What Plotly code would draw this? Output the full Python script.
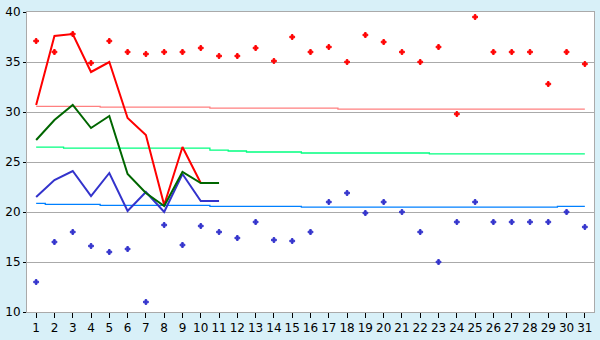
import plotly.graph_objects as go

days = list(range(1, 32))
y_ticks = [10, 15, 20, 25, 30, 35, 40]

red_pts = [37.1, 36.0, 37.8, 34.9, 37.1, 36.0, 35.8, 36.0, 36.0, 36.4,
           35.6, 35.6, 36.4, 35.1, 37.5, 36.0, 36.5, 35.0, 37.7, 37.0,
           36.0, 35.0, 36.5, 29.8, 39.5, 36.0, 36.0, 36.0, 32.8, 36.0, 34.8]
blue_pts = [13.0, 17.0, 18.0, 16.6, 16.0, 16.3, 11.0, 18.7, 16.7, 18.6,
            18.0, 17.4, 19.0, 17.2, 17.1, 18.0, 21.0, 21.9, 19.9, 21.0,
            20.0, 18.0, 15.0, 19.0, 21.0, 19.0, 19.0, 19.0, 19.0, 20.0, 18.5]

line_days_red = list(range(1, 11))
red_line = [30.7, 37.6, 37.8, 34.0, 35.0, 29.4, 27.7, 20.7, 26.5, 22.9]
line_days = list(range(1, 12))
green_line = [27.2, 29.2, 30.7, 28.4, 29.6, 23.8, 21.9, 20.6, 24.0, 22.9, 22.9]
blue_line = [21.5, 23.2, 24.1, 21.6, 23.9, 20.1, 22.0, 20.0, 23.8, 21.1, 21.1]

red_avg = [30.57] * 4 + [30.48] * 6 + [30.38] * 7 + [30.29] * 14
green_avg = [26.48] * 2 + [26.38] * 8 + [26.19] + [26.1] + [26.0] * 3 + [25.9] * 7 + [25.81] * 9
blue_avg = [20.86] + [20.76] * 3 + [20.67] * 6 + [20.57] * 5 + [20.48] * 14 + [20.57] * 2

fig = go.Figure()
fig.add_trace(go.Scatter(x=days, y=red_avg, mode="lines", line=dict(color="#ff8080", width=1.3, shape="hvh")))
fig.add_trace(go.Scatter(x=days, y=green_avg, mode="lines", line=dict(color="#00ff80", width=1.3, shape="hvh")))
fig.add_trace(go.Scatter(x=days, y=blue_avg, mode="lines", line=dict(color="#0080ff", width=1.3, shape="hvh")))
fig.add_trace(go.Scatter(x=days, y=red_pts, mode="markers",
                         marker=dict(symbol="cross", color="#ff0000", size=4,
                                     line=dict(width=1, color="#ff0000"))))
fig.add_trace(go.Scatter(x=days, y=blue_pts, mode="markers",
                         marker=dict(symbol="cross", color="#3333cc", size=4,
                                     line=dict(width=1, color="#3333cc"))))
fig.add_trace(go.Scatter(x=line_days_red, y=red_line, mode="lines", line=dict(color="#ff0000", width=2)))
fig.add_trace(go.Scatter(x=line_days, y=blue_line, mode="lines", line=dict(color="#3333cc", width=2)))
fig.add_trace(go.Scatter(x=line_days, y=green_line, mode="lines", line=dict(color="#006600", width=2)))

fig.update_layout(
    width=600, height=340,
    margin=dict(l=20, r=5, t=5, b=20),
    paper_bgcolor="#d8f0f8", plot_bgcolor="#ffffff",
    showlegend=False,
    font=dict(family="DejaVu Sans", size=12, color="#000000"),
)
fig.update_xaxes(range=[0.5, 31.5], tickvals=days, ticks="outside", ticklen=5, tickcolor="#000000",
                 showgrid=False, zeroline=False, showline=True, linecolor="#aaaaaa", mirror=True,
                 linewidth=1, tickfont=dict(size=12), ticklabeloverflow="allow")
fig.update_yaxes(range=[10, 40], tickvals=y_ticks, ticks="outside", ticklen=3, tickcolor="#000000",
                 showgrid=True, gridcolor="#aaaaaa", gridwidth=1, zeroline=False,
                 showline=True, linecolor="#aaaaaa", mirror=True, linewidth=1,
                 tickfont=dict(size=12), ticklabeloverflow="allow")
fig.write_html("out.html")
